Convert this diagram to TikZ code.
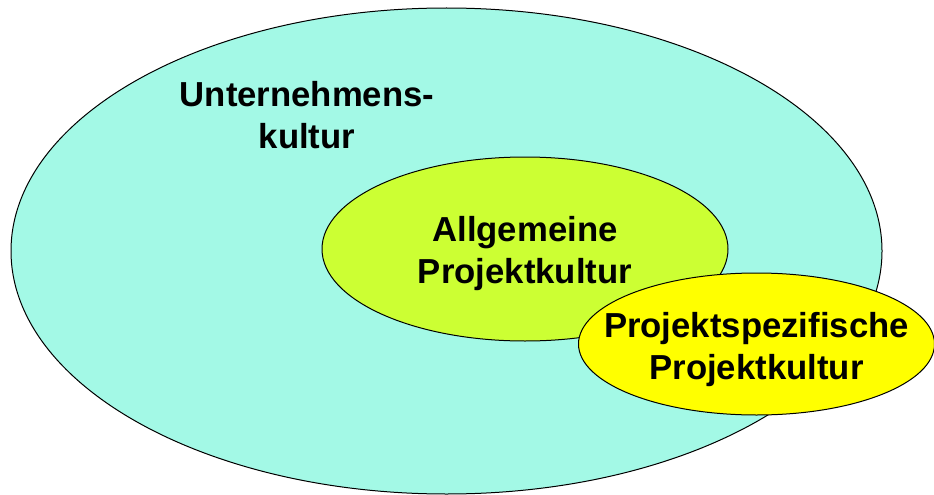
\documentclass[tikz,border=0pt]{standalone}
\usepackage{fontspec}
\setmainfont{Liberation Sans}
\usepackage{tikz}
\usetikzlibrary{shapes.geometric}
\definecolor{unternehmen}{HTML}{A3F9E6}
\definecolor{allgemein}{HTML}{CCFF33}
\definecolor{spezifisch}{HTML}{FFFF00}
\tikzset{kultur/.style={ellipse, draw=black, line width=1pt, inner sep=0pt},
         schrift/.style={align=center, inner sep=0pt, font=\fontsize{34.7}{42}\selectfont\bfseries}}

\begin{document}
\begin{tikzpicture}[x=1pt,y=-1pt]

\useasboundingbox (0,0) rectangle (934,495);
\node[kultur, fill=unternehmen, minimum width=871pt, minimum height=486pt] (uk) at (446.5,251) {};
\node[kultur, fill=allgemein, minimum width=406pt, minimum height=184pt] (apk) at (525,249) {};
\node[kultur, fill=spezifisch, minimum width=356pt, minimum height=142pt] (ppk) at (756.5,344) {};
    \node[schrift] (ukt)  at (307,115)   {Unternehmens-\\kultur};
    \node[schrift] (apkt) at (525,254)   {Allgemeine\\Projektkultur};
    \node[schrift] (ppkt) at (756.5,350) {Projektspezifische\\Projektkultur};
\end{tikzpicture}
\end{document}
